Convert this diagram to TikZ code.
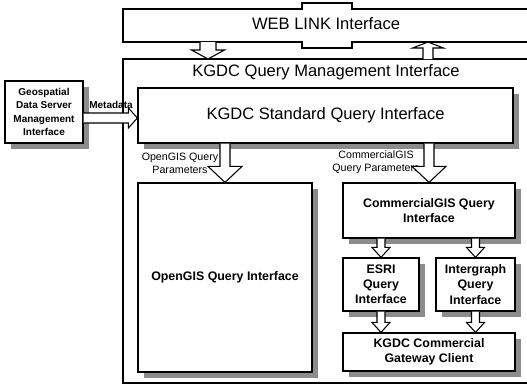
\documentclass[tikz,border=0pt]{standalone}
\usepackage{fontspec}
\setmainfont{Liberation Sans}
\usetikzlibrary{calc,shadows}

\tikzset{
  frame/.style={draw, line width=0.9pt},
  panel/.style={draw, fill=white, line width=0.9pt, inner sep=2pt, align=center,
    font=\fontsize{9.3}{11.4}\selectfont\bfseries,
    general shadow={fill=black!45, shadow xshift=4.5pt, shadow yshift=-4.5pt}},
  blk/.style={draw, fill=white, line width=0.8pt, line join=miter},
  title/.style={font=\fontsize{12.4}{14}\selectfont},
  tag/.style={font=\fontsize{8}{9.75}\selectfont, align=center, inner sep=0pt},
}

% vertical block arrow: from #1 to tip #2, shaft half-width #3, head half-width #4, head length #5
\newcommand{\vblock}[5]{%
  \draw[blk] let \p1=(#1), \p2=(#2) in
    (\x1-#3,\y1) -- (\x1-#3,\y2+#5) -- (\x1-#4,\y2+#5) -- (\x1,\y2)
    -- (\x1+#4,\y2+#5) -- (\x1+#3,\y2+#5) -- (\x1+#3,\y1);}
% horizontal block arrow pointing right
\newcommand{\hblock}[5]{%
  \draw[blk] let \p1=(#1), \p2=(#2) in
    (\x1,\y1+#3) -- (\x2-#5,\y1+#3) -- (\x2-#5,\y1+#4) -- (\x2,\y1)
    -- (\x2-#5,\y1-#4) -- (\x2-#5,\y1-#3) -- (\x1,\y1-#3);}

\begin{document}
\begin{tikzpicture}[x=0.75pt,y=-0.75pt]
\useasboundingbox (0,0) rectangle (527,386);
\clip (0,0) rectangle (527,386);

% web link band with its centre tab
\draw[frame] (540,9) -- (352,9) -- (352,3) -- (302,3) -- (302,9) -- (123,9)
  -- (123,42) -- (302,42) -- (302,48) -- (352,48) -- (352,42) -- (540,42);
\node[minimum width=312.75pt, minimum height=24.75pt, outer sep=0pt, inner sep=0pt] (web) at (331.5,25.5) {};
\node[title] (webtitle) at (326,24) {WEB LINK Interface};

% query management frame
\node[frame, minimum width=312.75pt, minimum height=243pt, outer sep=0pt] (qm) at (331.5,221) {};
\node[title] (qmtitle) at (326,72) {KGDC Query Management Interface};

% component boxes
\node[panel, font=\fontsize{7.5}{10}\selectfont\bfseries, minimum width=58.5pt, minimum height=46.5pt] (geo) at (44,112)
  {Geospatial\\Data Server\\Management\\Interface};
\node[panel, title, minimum width=281.25pt, minimum height=41.25pt] (std) at (325.5,115.5) {KGDC Standard Query Interface};
\node[panel, minimum width=130.5pt, minimum height=141.75pt] (ogis) at (225,277.5) {OpenGIS Query Interface};
\node[panel, minimum width=129pt, minimum height=41.25pt] (cgis) at (429,210.5) {CommercialGIS Query\\Interface};
\node[panel, minimum width=57pt, minimum height=39.75pt] (esri) at (381,284.5) {ESRI\\Query\\Interface};
\node[panel, minimum width=59.25pt, minimum height=39.75pt] (igr) at (475.5,284.5) {Intergraph\\Query\\Interface};
\node[panel, minimum width=129pt, minimum height=28.5pt] (gw) at (429,352) {KGDC Commercial\\Gateway Client};

% labels
\node[tag, font=\fontsize{7.5}{9}\selectfont\bfseries] (mdlabel) at (111,105) {Metadata};
\node[tag] (ogl) at (180,163) {OpenGIS Query\\Parameters};
\node[tag] (cgl) at (376,162) {CommercialGIS\\Query Parameters};

% block arrows
\coordinate (wdcol) at (208,0);
\coordinate (wucol) at (428,0);
\coordinate (mdrow) at (0,118);
\vblock{web.south -| wdcol}{qm.north -| wdcol}{6pt}{12.4pt}{6.75pt}
\vblock{qm.north -| wucol}{web.south -| wucol}{3.75pt}{11.6pt}{-4.5pt}
\hblock{geo.east |- mdrow}{std.west |- mdrow}{3.75pt}{7.5pt}{6.75pt}
\vblock{std.south -| ogis.north}{ogis.north}{3.75pt}{12.75pt}{12pt}
\vblock{std.south -| cgis.north}{cgis.north}{3.75pt}{12.75pt}{12pt}
\vblock{cgis.south -| esri.north}{esri.north}{3pt}{6.75pt}{7.5pt}
\vblock{cgis.south -| igr.north}{igr.north}{3pt}{6.75pt}{7.5pt}
\vblock{esri.south}{gw.north -| esri.south}{3pt}{6.75pt}{7.5pt}
\vblock{igr.south}{gw.north -| igr.south}{3pt}{6.75pt}{7.5pt}
\end{tikzpicture}
\end{document}
